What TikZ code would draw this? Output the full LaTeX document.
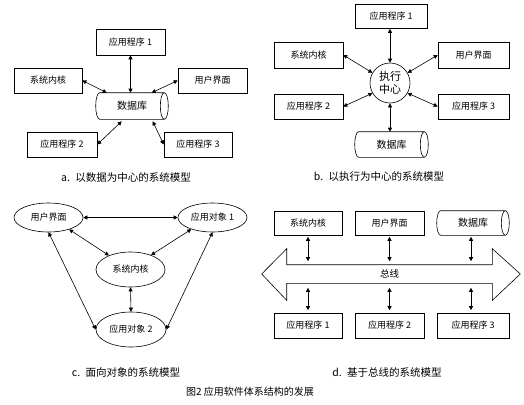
\documentclass[tikz,border=0pt]{standalone}
\usepackage{fontspec}
\setmainfont{Noto Sans CJK SC}
\usetikzlibrary{arrows.meta,shapes.geometric,calc}
\newcommand\cylout[1]{%
  \draw let \p1=(#1.north west), \p2=(#1.south east) in
    ({\x1+4pt},\y1) -- ({\x2-4pt},\y1)
    .. controls ({\x2-1.8pt},\y1) and (\x2,{\y2+0.776*(\y1-\y2)}) .. (\x2,{0.5*(\y1+\y2)})
    .. controls (\x2,{\y2+0.224*(\y1-\y2)}) and ({\x2-1.8pt},\y2) .. ({\x2-4pt},\y2)
    -- ({\x1+4pt},\y2)
    .. controls ({\x1+1.8pt},\y2) and (\x1,{\y2+0.224*(\y1-\y2)}) .. (\x1,{0.5*(\y1+\y2)})
    .. controls (\x1,{\y2+0.776*(\y1-\y2)}) and ({\x1+1.8pt},\y1) .. cycle
    ({\x2-4pt},\y1)
    .. controls ({\x2-6.2pt},\y1) and ({\x2-8pt},{\y2+0.776*(\y1-\y2)}) .. ({\x2-8pt},{0.5*(\y1+\y2)})
    .. controls ({\x2-8pt},{\y2+0.224*(\y1-\y2)}) and ({\x2-6.2pt},\y2) .. ({\x2-4pt},\y2);}
\begin{document}
\begin{tikzpicture}[x=1pt,y=-1pt,line width=0.6pt,
  box/.style={draw,rectangle,inner sep=0pt,font=\fontsize{9}{10}\selectfont},
  ell/.style={draw,ellipse,inner sep=0pt,font=\fontsize{9}{10}\selectfont},
  dbn/.style={rectangle,inner sep=0pt,font=\fontsize{10}{12}\selectfont},
  link/.style={{Triangle[length=4pt,width=4pt]}-{Triangle[length=4pt,width=4pt]}},
  captext/.style={inner sep=0pt,font=\fontsize{10.5}{12}\selectfont}]
\useasboundingbox (0,0) rectangle (524,404);

% ---------- panel a ----------
\node[box,minimum width=69pt,minimum height=26pt] (a1) at (130.5,42) {应用程序 1};
\node[box,minimum width=68pt,minimum height=25pt] (akern) at (48,80.5) {系统内核};
\node[box,minimum width=69pt,minimum height=25pt] (aui) at (212.5,80.5) {用户界面};
\node[dbn,minimum width=72pt,minimum height=26pt] (adb) at (132,106) {数据库};
\cylout{adb}
\node[box,minimum width=70pt,minimum height=25pt] (a2) at (62,144.5) {应用程序 2};
\node[box,minimum width=68pt,minimum height=25pt] (a3) at (198,144.5) {应用程序 3};
\draw[link] (a1.south) -- (a1.south |- adb.north);
\draw[link] (akern.east) -- ([xshift=11pt]adb.north west);
\draw[link] (aui.west) -- ([xshift=56pt]adb.north west);
\draw[link] (a2.east) -- ([xshift=26pt,yshift=-2pt]adb.south west);
\draw[link] (a3.west) -- ([xshift=57pt,yshift=-2pt]adb.south west);
\node[captext] (capa) at (126,178) {a.\enspace 以数据为中心的系统模型};

% ---------- panel b ----------
\node[box,minimum width=72pt,minimum height=24pt] (b1) at (391,16.5) {应用程序 1};
\node[box,minimum width=69pt,minimum height=26pt] (bkern) at (308.5,55) {系统内核};
\node[box,minimum width=71pt,minimum height=26pt] (bui) at (473.5,55) {用户界面};
\node[draw,circle,minimum size=40pt,inner sep=0pt,align=center,font=\fontsize{11}{13}\selectfont] (bc) at (390,83) {执行\\中心};
\node[box,minimum width=69pt,minimum height=25pt] (b2) at (308.5,106.5) {应用程序 2};
\node[box,minimum width=71pt,minimum height=25pt] (b3) at (473.5,106.5) {应用程序 3};
\node[dbn,minimum width=73pt,minimum height=25pt] (bdb) at (391.5,144.5) {数据库};
\cylout{bdb}
\draw[link] (bc.north |- b1.south) -- (bc.north);
\draw[link] (bkern.east) -- (bc.150);
\draw[link] (bui.west) -- (bc.30);
\draw[link] (b2.east) -- (bc.210);
\draw[link] (b3.west) -- (bc.330);
\draw[link] (bc.south) -- (bc.south |- bdb.north);
\node[captext] (capb) at (379,177) {b.\enspace 以执行为中心的系统模型};

% ---------- panel c ----------
\node[ell,minimum width=69pt,minimum height=29pt] (cui) at (48.5,217.5) {用户界面};
\node[ell,minimum width=69pt,minimum height=29pt] (co1) at (212.5,217.5) {应用对象 1};
\node[ell,minimum width=69pt,minimum height=35pt] (ckern) at (130.5,269.5) {系统内核};
\node[ell,minimum width=70pt,minimum height=35pt] (co2) at (131,329.5) {应用对象 2};
\draw[link] (cui.east) -- (co1.west);
\draw[link] (cui.-30) -- (ckern.147);
\draw[link] (co1.209) -- (ckern.35);
\draw[link] (ckern.south) -- (co2.north);
\draw[link] (cui.south) -- (co2.west);
\draw[link] (co1.south) -- (co2.east);
\node[captext] (capc) at (126,372) {c.\enspace 面向对象的系统模型};

% ---------- panel d ----------
\node[box,minimum width=68pt,minimum height=24pt] (dkern) at (308,223) {系统内核};
\node[box,minimum width=69pt,minimum height=24pt] (dui) at (389.5,223) {用户界面};
\node[dbn,minimum width=72pt,minimum height=24pt] (ddb) at (473,223) {数据库};
\cylout{ddb}
\node[rectangle,inner sep=0pt,minimum width=205pt,minimum height=18pt,font=\fontsize{9.5}{11}\selectfont] (bus) at (389.5,274) {总线};
\draw (bus.north west) -- ++(0,-16) -- ($(bus.west)+(-25,0)$) -- ($(bus.south west)+(0,17)$)
  -- (bus.south west) -- (bus.south east) -- ++(0,17) -- ($(bus.east)+(28,0)$)
  -- ($(bus.north east)+(0,-16)$) -- (bus.north east) -- cycle;
\node[box,minimum width=68pt,minimum height=25pt] (d1) at (308,325.5) {应用程序 1};
\node[box,minimum width=69pt,minimum height=25pt] (d2) at (389.5,325.5) {应用程序 2};
\node[box,minimum width=72pt,minimum height=25pt] (d3) at (473,325.5) {应用程序 3};
\draw[link,shorten <=1.5pt,shorten >=3.5pt] (dkern.south) -- (dkern.south |- bus.north);
\draw[link,shorten <=1.5pt,shorten >=3.5pt] (dui.south) -- (dui.south |- bus.north);
\draw[link,shorten <=1.5pt,shorten >=3.5pt] ([xshift=-2pt]ddb.south) -- ([xshift=-2pt]ddb.south |- bus.north);
\draw[link,shorten <=4.5pt,shorten >=2.5pt] (d1.north |- bus.south) -- (d1.north);
\draw[link,shorten <=4.5pt,shorten >=2.5pt] (d2.north |- bus.south) -- (d2.north);
\draw[link,shorten <=4.5pt,shorten >=2.5pt] ([xshift=-2pt]d3.north |- bus.south) -- ([xshift=-2pt]d3.north);
\node[captext] (capd) at (387,372) {d.\enspace 基于总线的系统模型};

\node[inner sep=0pt,font=\fontsize{10}{12}\selectfont] (fig) at (250,392) {图2 应用软件体系结构的发展};
\end{tikzpicture}
\end{document}
